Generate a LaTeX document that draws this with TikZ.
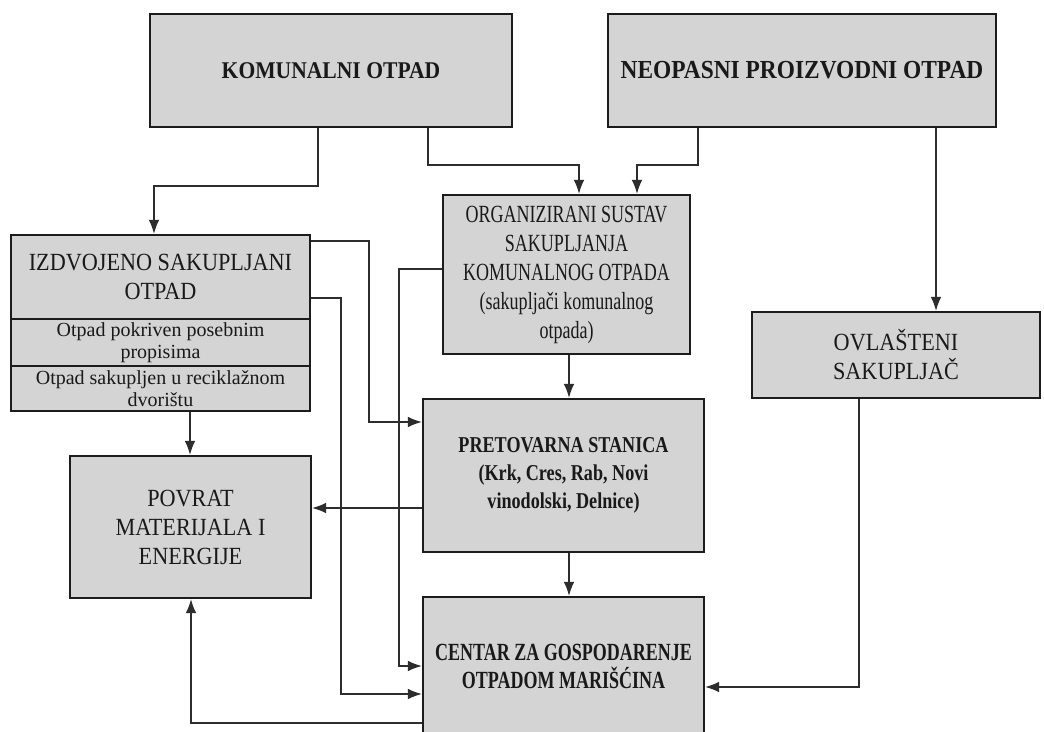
\documentclass[tikz,border=0pt]{standalone}
\usepackage{fontspec}
\setmainfont{Liberation Serif}
\newfontfamily\fwide{Liberation Serif}[FakeStretch=0.9]
\newfontfamily\fmid{Liberation Serif}[FakeStretch=0.8]
\newfontfamily\fnarrow{Liberation Serif}[FakeStretch=0.73]
\usetikzlibrary{arrows.meta}
\definecolor{boxfill}{RGB}{212,212,212}
\definecolor{edge}{RGB}{28,28,28}
\definecolor{wire}{RGB}{45,45,45}
\definecolor{ink}{RGB}{25,25,25}
\tikzset{
  box/.style={draw=edge, line width=1.6pt, fill=boxfill, inner sep=0pt, align=center, text=ink, anchor=center},
  regtext/.style={font=\fwide\fontsize{18.5}{21.75}\selectfont},
  smalltext/.style={font=\fontsize{15}{16.5}\selectfont},
  arr/.style={draw=wire, line width=1.2pt, -{Latex[length=10.5pt,width=8pt]}}
}
\begin{document}
\begin{tikzpicture}[x=0.75pt,y=-0.75pt]
\useasboundingbox (0,0) rectangle (1044,731);
\clip (0,0) rectangle (1044,731);
\fill[white] (0,0) rectangle (1044,731);

\node[box, minimum width=271.5pt, minimum height=84.75pt, font=\fwide\bfseries\fontsize{18}{21}\selectfont] (kom) at (331,70.5) {KOMUNALNI OTPAD};
\node[box, minimum width=291pt, minimum height=84.75pt, font=\fwide\bfseries\fontsize{19.5}{22}\selectfont] (neo) at (802,70.5) {NEOPASNI PROIZVODNI OTPAD};

\node[box, minimum width=224.25pt, minimum height=63pt, regtext] (izd) at (160.5,277) {IZDVOJENO SAKUPLJANI\\OTPAD};
\node[box, minimum width=224.25pt, minimum height=35.25pt, smalltext] (izda) at (160.5,342.5) {Otpad pokriven posebnim\\propisima};
\node[box, minimum width=224.25pt, minimum height=33.75pt, smalltext] (izdb) at (160.5,388.5) {Otpad sakupljen u reciklažnom\\dvorištu};

\node[box, minimum width=185.25pt, minimum height=119.25pt, font=\fnarrow\fontsize{18.5}{21.75}\selectfont] (org) at (566.5,274.5) {ORGANIZIRANI SUSTAV\\SAKUPLJANJA\\KOMUNALNOG OTPADA\\(sakupljači komunalnog\\otpada)};

\node[box, minimum width=216pt, minimum height=64.5pt, regtext] (ovl) at (896,355) {OVLAŠTENI\\SAKUPLJAČ};

\node[box, minimum width=210.75pt, minimum height=114.75pt, font=\fmid\bfseries\fontsize{17}{21}\selectfont] (pret) at (563.5,475.5) {PRETOVARNA STANICA\\(Krk, Cres, Rab, Novi\\vinodolski, Delnice)};

\node[box, minimum width=180.75pt, minimum height=106.5pt, regtext] (pov) at (190.5,527) {POVRAT\\MATERIJALA I\\ENERGIJE};

\node[box, minimum width=210.75pt, minimum height=103.5pt, font=\fnarrow\bfseries\fontsize{18.5}{21}\selectfont] (cen) at (563.5,666) {CENTAR ZA GOSPODARENJE\\OTPADOM MARIŠĆINA};

% connectors
\draw[arr] (kom.south -| 318,0) -- (318,186) -- (154,186) -- (izd.north -| 154,0);
\draw[arr] (kom.south -| 428,0) -- (428,165) -- (579,165) -- (org.north -| 579,0);
\draw[arr] (neo.south -| 698,0) -- (698,165) -- (637,165) -- (org.north -| 637,0);
\draw[arr] (neo.south -| 936,0) -- (ovl.north -| 936,0);

\draw[arr] (izd.east |- 0,241) -- (369,241) -- (369,422) -- (pret.west |- 0,422);
\draw[arr] (izd.east |- 0,298) -- (341,298) -- (341,694) -- (cen.west |- 0,694);
\draw[arr] (org.west |- 0,269) -- (399,269) -- (399,666) -- (cen.west |- 0,666);

\draw[arr] (izdb.south -| 190,0) -- (pov.north -| 190,0);
\draw[arr] (pret.west |- 0,508) -- (pov.east |- 0,508);
\draw[arr] (cen.west |- 0,723) -- (191,723) -- (pov.south -| 191,0);

\draw[arr] (org.south -| 569,0) -- (pret.north -| 569,0);
\draw[arr] (pret.south -| 569,0) -- (cen.north -| 569,0);
\draw[arr] (ovl.south -| 859,0) -- (859,687) -- (cen.east |- 0,687);
\end{tikzpicture}
\end{document}
